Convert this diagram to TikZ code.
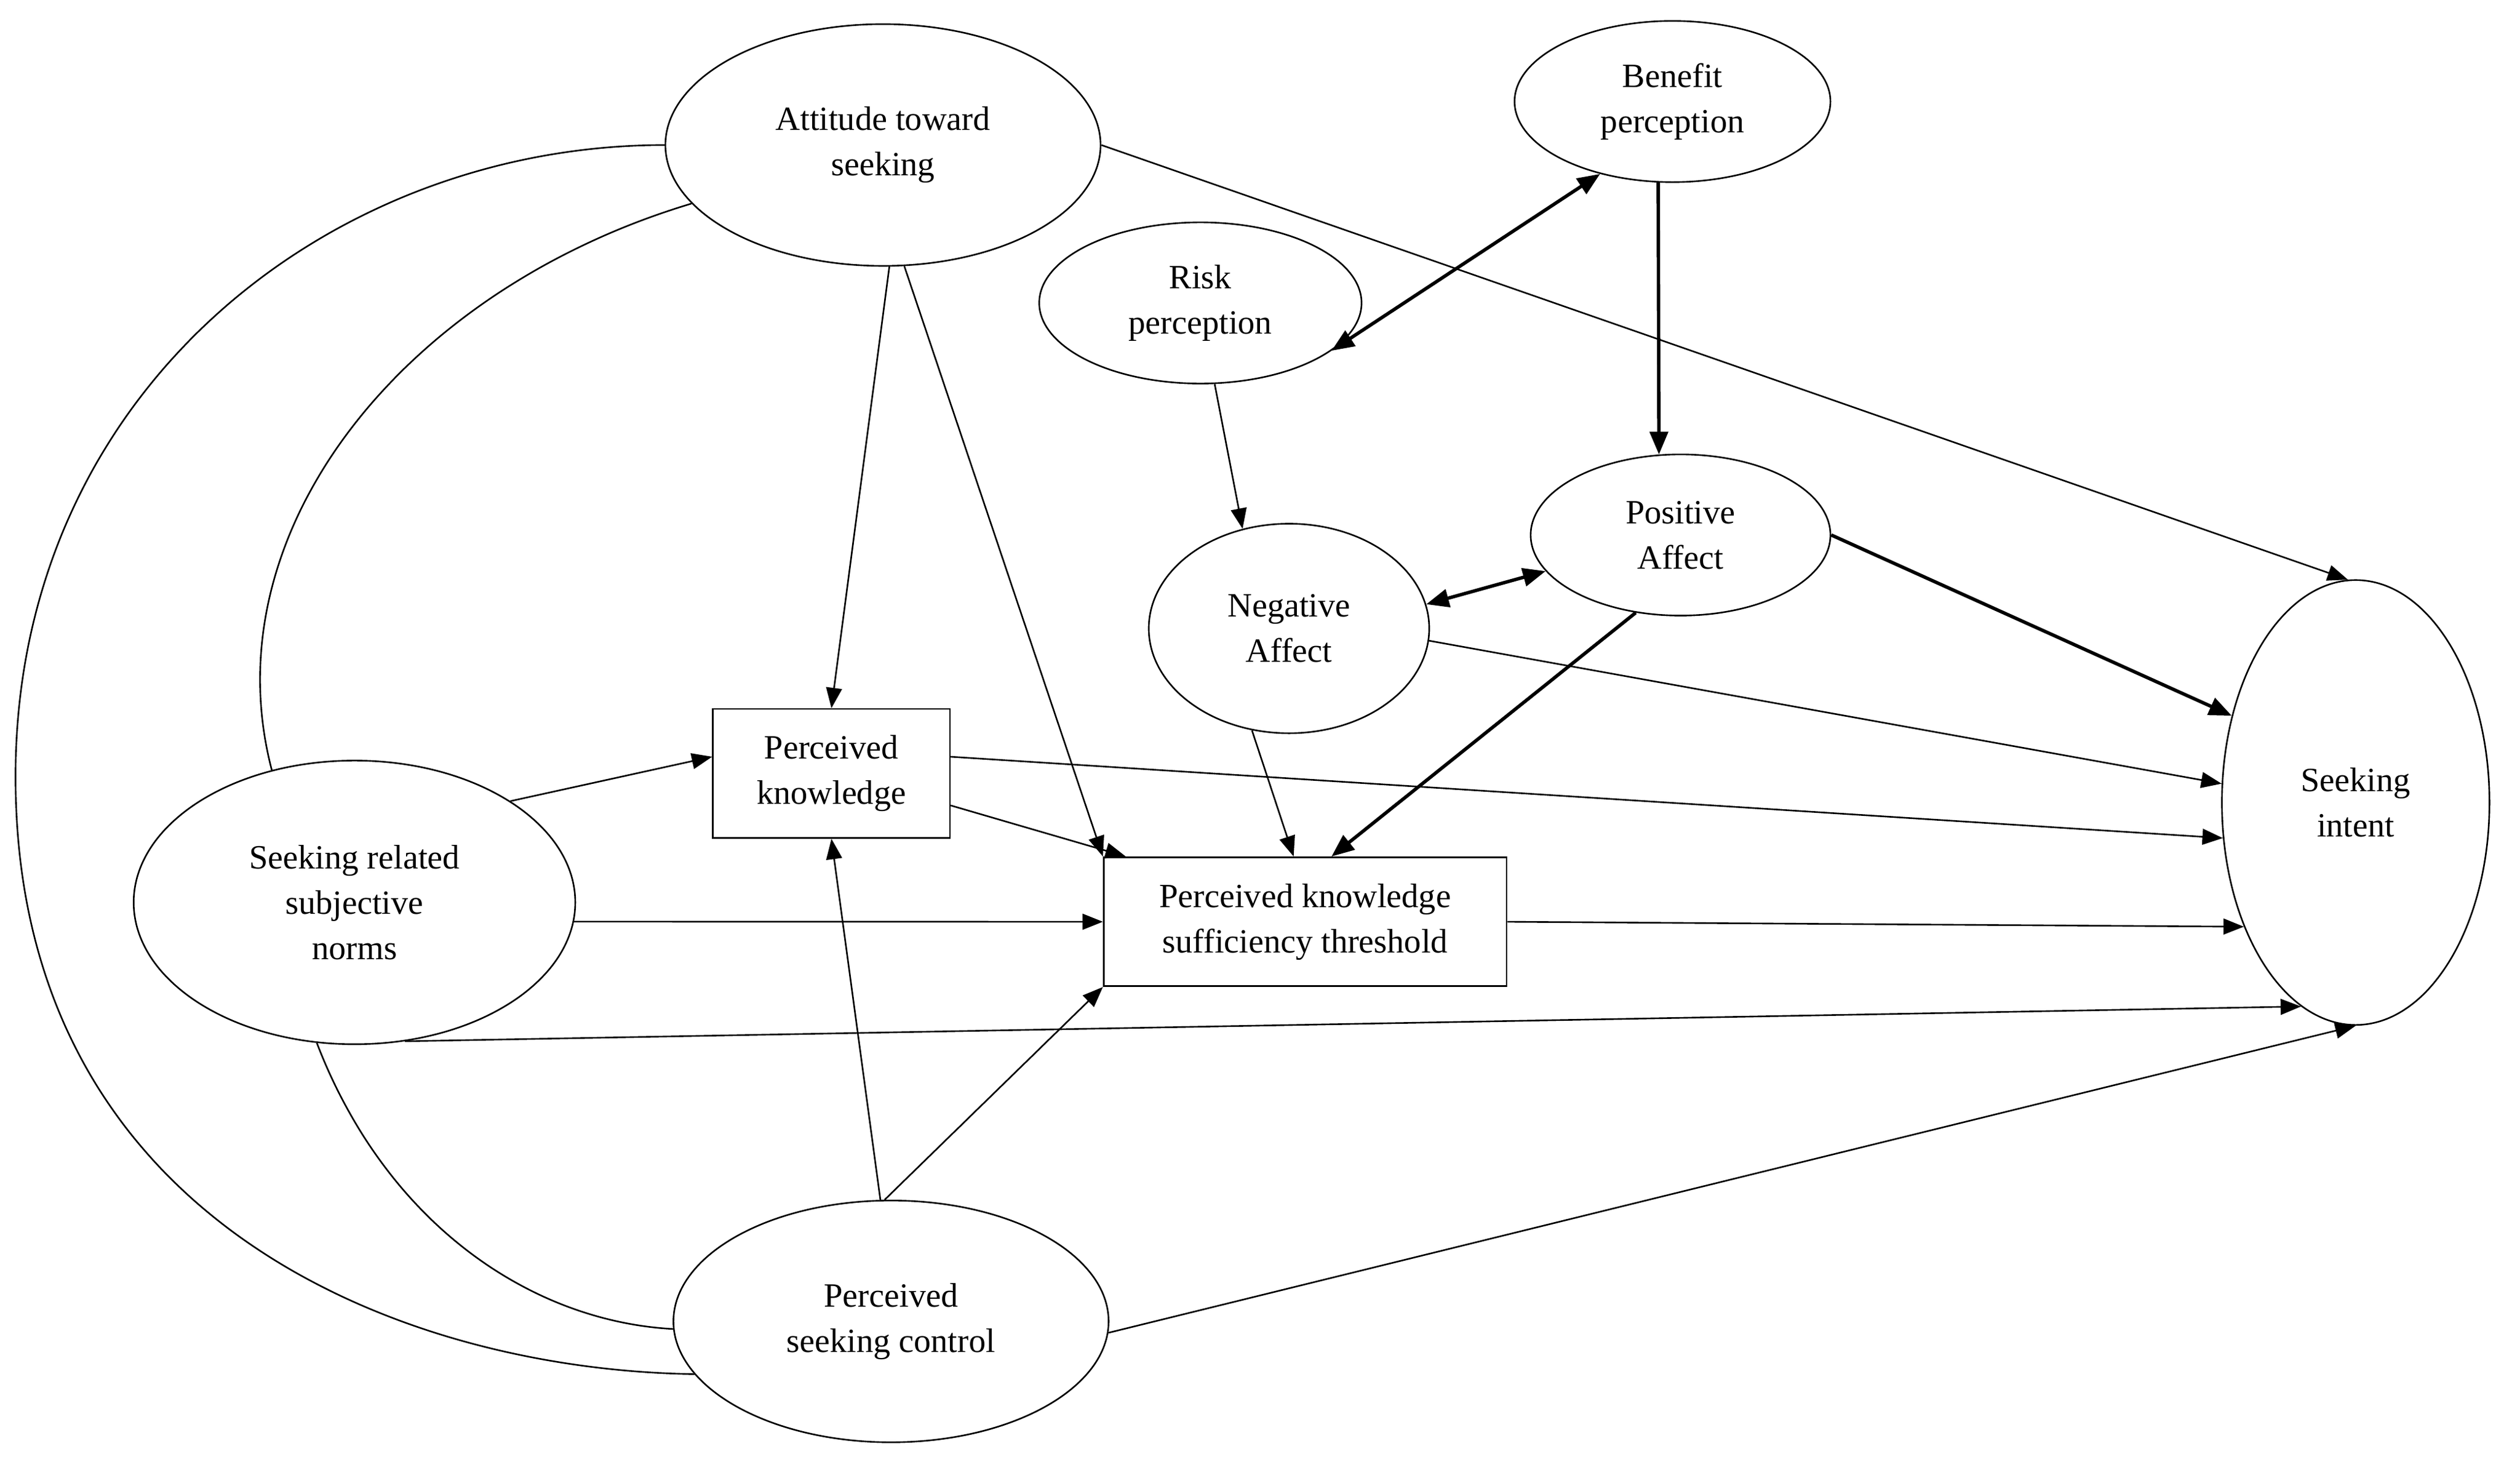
\documentclass[tikz,border=0pt]{standalone}
\usepackage{fontspec}
\setmainfont{Liberation Serif}
\usetikzlibrary{positioning,shapes.geometric,arrows.meta}

\tikzset{
  var/.style={ellipse,draw,line width=0.7pt,inner sep=0pt,align=center,font=\fontsize{15}{20}\selectfont},
  box/.style={rectangle,draw,line width=0.7pt,inner sep=0pt,align=center,font=\fontsize{15}{20}\selectfont},
  path/.style={line width=0.7pt,-{Triangle[length=9pt,width=7pt]}},
  strong/.style={line width=1.5pt,-{Triangle[length=10pt,width=8pt]}},
  both/.style={line width=1.5pt,{Triangle[length=10pt,width=8pt]}-{Triangle[length=10pt,width=8pt]}},
  link/.style={line width=0.7pt}
}

\begin{document}
\begin{tikzpicture}[x=0.025cm,y=-0.025cm]
\useasboundingbox (0,0) rectangle (1564,907);

% Nodes
\node[var,minimum width=270\pgflinewidth*0+6.75cm,minimum height=3.75cm] (att) at (548,90) {Attitude toward\\seeking};
\node[var,minimum width=4.9cm,minimum height=2.5cm] (ben) at (1038,63) {Benefit\\perception};
\node[var,minimum width=5cm,minimum height=2.5cm] (risk) at (745,188) {Risk\\perception};
\node[var,minimum width=4.65cm,minimum height=2.5cm] (pos) at (1043,332) {Positive\\Affect};
\node[var,minimum width=4.35cm,minimum height=3.25cm] (neg) at (800,390) {Negative\\Affect};
\node[var,minimum width=4.15cm,minimum height=6.9cm] (intent) at (1462,498) {Seeking\\intent};
\node[box,minimum width=3.675cm,minimum height=2cm] (pk) at (516,480) {Perceived\\knowledge};
\node[box,minimum width=6.25cm,minimum height=2cm] (pkst) at (810,572) {Perceived knowledge\\sufficiency threshold};
\node[var,minimum width=6.85cm,minimum height=4.4cm] (norms) at (220,560) {Seeking related\\subjective\\norms};
\node[var,minimum width=6.75cm,minimum height=3.75cm] (ctrl) at (553,820) {Perceived\\seeking control};

% Correlations
\draw[link] (att.180) .. controls (200,90) and (0,250) .. (10,500) .. controls (20,760) and (250,850) .. (ctrl.195);
\draw[link] (att.197) .. controls (250,180) and (130,330) .. (norms.122);
\draw[link] (norms.-105) .. controls (240,760) and (330,820) .. (ctrl.182);

% Paths
\draw[path] (att.-87) -- (pk.north);
\draw[path] (att.-80) -- (pkst.north west);
\draw[path] (att.0) -- (intent.92);
\draw[both] (ben.225) -- (risk.-20);
\draw[strong] (ben.-100) -- (pos.105);
\draw[path] (risk.-80) -- (neg.115);
\draw[both] (neg.10) -- (pos.195);
\draw[path] (neg.-110) -- (pkst.100);
\draw[path] (neg.-5) -- (intent.172);
\draw[strong] (pos.-120) -- (pkst.68);
\draw[strong] (pos.0) -- (intent.145);
\draw[path] (pk.-15) -- (pkst.160);
\draw[path] (pk.8) -- (intent.195);
\draw[path] (norms.33) -- (pk.172);
\draw[path] (norms.-5) -- (pkst.west);
\draw[path] (norms.-70) -- (intent.255);
\draw[path] (pkst.east) -- (intent.228);
\draw[path] (ctrl.95) -- (pk.south);
\draw[path] (ctrl.93) -- (pkst.south west);
\draw[path] (ctrl.-3) -- (intent.270);

\end{tikzpicture}
\end{document}
